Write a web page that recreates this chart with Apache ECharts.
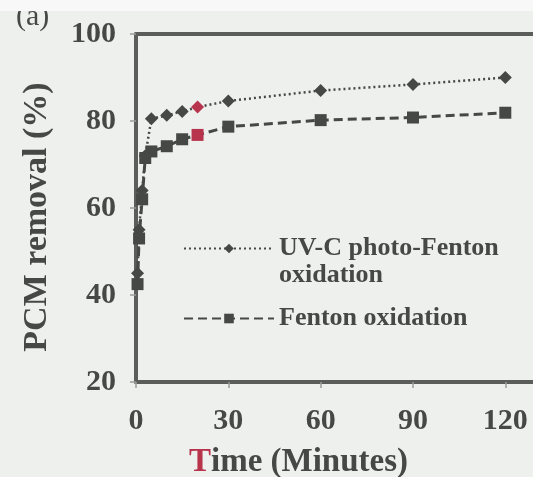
<!DOCTYPE html>
<html>
<head>
<meta charset="utf-8">
<script src="https://cdn.jsdelivr.net/npm/echarts@6/dist/echarts.min.js"></script>
<style>
  html, body { margin: 0; padding: 0; background: #eef0ee; }
  #chart { width: 533px; height: 477px; }
</style>
</head>
<body>
<div id="chart"></div>
<script>
// time in minutes and PCM removal (%)
const photoTime = [0.5, 1, 2, 3, 5, 10, 15, 20, 30, 60, 90, 120]
const photoRemoval = [45, 55, 64, 72, 80.5, 81.3, 82.2, 83.2, 84.6, 87, 88.4, 90]
const fentonTime = [0.5, 1, 2, 3, 5, 10, 15, 20, 30, 60, 90, 120]
const fentonRemoval = [42.5, 53, 62, 71.5, 73, 74.2, 75.8, 76.8, 78.7, 80.2, 80.8, 81.9]
const xTicks = [0, 30, 60, 90, 120]
const highlightTime = 20

const ink = '#454845'
const red = '#b8344c'
const fontFamily = '"Liberation Serif", "DejaVu Serif", serif'

function pairs(xs, ys) {
    return xs.map((t, i) => {
        const item = { value: [t, ys[i]] }
        if (t === highlightTime) {
            item.itemStyle = { color: red }
        }
        return item
    })
}

const chart = echarts.init(document.getElementById('chart'))

chart.setOption({
    backgroundColor: '#eef0ee',
    animation: false,
    textStyle: { fontFamily: fontFamily },
    grid: { left: 136, right: 0, top: 34, bottom: 95, outerBoundsMode: 'none' },
    graphic: [{
        type: 'text',
        left: 16,
        top: 2,
        style: { text: '(a)', fontSize: 30, fontFamily: fontFamily, fill: ink }
    }, {
        // scan edge at the top
        type: 'rect',
        left: 0,
        top: 0,
        shape: { width: 533, height: 11 },
        style: { fill: '#f7f8f7' },
        z: 10
    }],
    legend: {
        orient: 'vertical',
        left: 183,
        top: 208,
        padding: 0,
        itemGap: 16,
        itemWidth: 90,
        itemHeight: 12,
        textStyle: { fontSize: 26, fontWeight: 'bold', color: ink, lineHeight: 27 },
        formatter: name => name === 'UV-C photo-Fenton oxidation'
            ? '\nUV-C photo-Fenton\noxidation'
            : name,
        data: ['UV-C photo-Fenton oxidation', 'Fenton oxidation']
    },
    xAxis: [{
        type: 'value',
        min: 0,
        max: 129,
        interval: 30,
        splitLine: { show: false },
        axisLine: { lineStyle: { color: '#5a5d5a', width: 4 } },
        axisTick: { show: true, length: 6, customValues: xTicks, lineStyle: { color: '#9a9c9a', width: 1.5 } },
        axisLabel: {
            customValues: xTicks,
            margin: 24,
            fontSize: 30,
            fontWeight: 'bold',
            color: ink
        },
        name: '{r|T}ime (Minutes)',
        nameLocation: 'middle',
        nameGap: 64,
        nameTextStyle: {
            fontSize: 33,
            fontWeight: 'bold',
            color: ink,
            padding: [0, 72, 0, 0],
            rich: {
                r: { fontSize: 33, fontWeight: 'bold', color: red }
            }
        }
    }, {
        type: 'value',
        position: 'top',
        min: 0,
        max: 129,
        splitLine: { show: false },
        axisLine: { show: true, lineStyle: { color: '#5a5d5a', width: 4 } },
        axisTick: { show: false },
        axisLabel: { show: false }
    }],
    yAxis: {
        type: 'value',
        min: 20,
        max: 100,
        interval: 20,
        splitLine: { show: false },
        axisLine: { lineStyle: { color: '#5a5d5a', width: 4 } },
        axisTick: { show: true, length: 6, lineStyle: { color: '#9a9c9a', width: 1.5 } },
        axisLabel: { margin: 20, fontSize: 30, fontWeight: 'bold', color: ink },
        name: 'PCM removal (%)',
        nameLocation: 'middle',
        nameGap: 82,
        nameTextStyle: { fontSize: 34, fontWeight: 'bold', color: ink, padding: [0, 18, 0, 0] }
    },
    series: [{
        name: 'UV-C photo-Fenton oxidation',
        type: 'line',
        symbol: 'diamond',
        symbolSize: 13,
        itemStyle: { color: ink },
        lineStyle: { color: ink, width: 2.5, type: [2, 3] },
        data: pairs(photoTime, photoRemoval)
    }, {
        name: 'Fenton oxidation',
        type: 'line',
        symbol: 'rect',
        symbolSize: 12,
        itemStyle: { color: ink },
        lineStyle: { color: ink, width: 3, type: [9, 5] },
        data: pairs(fentonTime, fentonRemoval)
    }]
})
</script>
</body>
</html>
